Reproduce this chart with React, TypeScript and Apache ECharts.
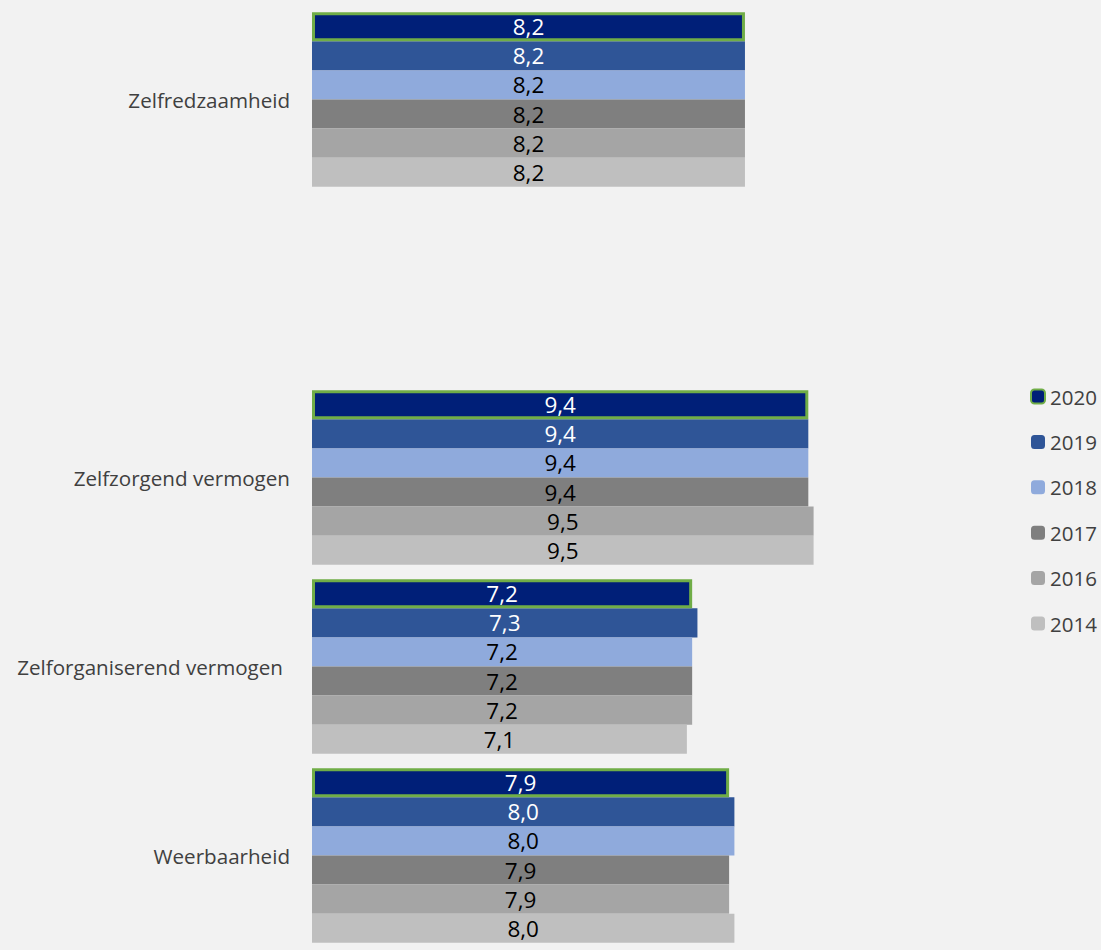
import React, { useEffect, useRef } from "react";
import * as echarts from "echarts";

const categories = ["Zelfredzaamheid", "", "Zelfzorgend vermogen", "Zelforganiserend vermogen", "Weerbaarheid"];
const years = ["2020", "2019", "2018", "2017", "2016", "2014"];
const v2020 = [8.2, null, 9.4, 7.2, 7.9];
const v2019 = [8.2, null, 9.4, 7.3, 8.0];
const v2018 = [8.2, null, 9.4, 7.2, 8.0];
const v2017 = [8.2, null, 9.4, 7.2, 7.9];
const v2016 = [8.2, null, 9.5, 7.2, 7.9];
const v2014 = [8.2, null, 9.5, 7.1, 8.0];
const seriesValues = [v2020, v2019, v2018, v2017, v2016, v2014];

const colors = ["#001F78", "#2F5597", "#8FAADC", "#7F7F7F", "#A5A5A5", "#BFBFBF"];
const labelColors = ["#FFFFFF", "#FFFFFF", "#000000", "#000000", "#000000", "#000000"];
const FONT = "Open Sans";

export default function App() {
  const ref = useRef<HTMLDivElement>(null);
  useEffect(() => {
    document.body.style.margin = "0";
    document.body.style.background = "#F2F2F2";
    const chart = echarts.init(ref.current!, undefined, { renderer: "svg" });
    chart.setOption({
      animation: false,
      backgroundColor: "#F2F2F2",
      grid: { left: 312, width: 528, top: 5, height: 952, containLabel: false },
      legend: {
        orient: "vertical",
        left: 1030,
        top: 385.5,
        padding: 0,
        itemWidth: 14,
        itemHeight: 14,
        itemGap: 23.4,
        data: years,
        textStyle: { fontFamily: FONT, fontSize: 20.5, color: "#404040", lineHeight: 22 },
      },
      xAxis: {
        type: "value",
        min: 0,
        max: 10,
        show: false,
        splitLine: { show: false },
      },
      yAxis: {
        type: "category",
        inverse: true,
        data: categories,
        axisLine: { show: false },
        axisTick: { show: false },
        axisLabel: {
          margin: 22,
          fontFamily: FONT,
          fontSize: 20.6,
          color: "#404040",
          formatter: (v: string, idx: number) => (idx === 3 ? `{s|${v}}` : v),
          rich: { s: { fontFamily: FONT, fontSize: 20.6, color: "#404040", padding: [0, 7, 0, 0] } },
        },
      },
      series: years.map((y, i) => ({
        name: y,
        type: "bar",
        data: seriesValues[i],
        barGap: "0%",
        barCategoryGap: "7.6%",
        itemStyle: i === 0
          ? { color: colors[i], borderColor: "#70AD47", borderWidth: 3 }
          : { color: colors[i] },
        label: {
          show: true,
          position: "inside",
          fontFamily: FONT,
          fontSize: 22.5,
          color: labelColors[i],
          formatter: (p: any) => (p.value == null ? "" : Number(p.value).toFixed(1).replace(".", ",")),
        },
        z: i === 0 ? 3 : 2,
      })),
    });
    return () => chart.dispose();
  }, []);
  return <div ref={ref} style={{ width: 1101, height: 950, background: "#F2F2F2" }} />;
}
